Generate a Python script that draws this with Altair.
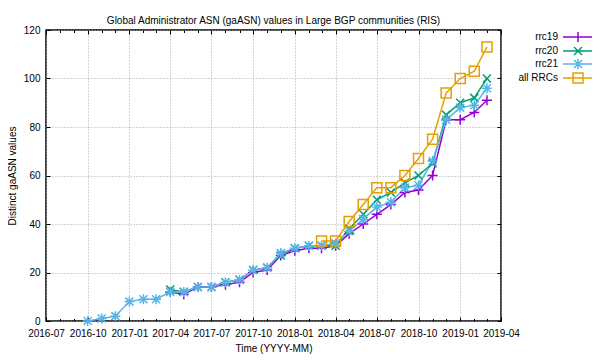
import altair as alt
import pandas as pd

# ---------------- data ----------------
months = [
    "2016-10", "2016-11", "2016-12",
    "2017-01", "2017-02", "2017-03", "2017-04", "2017-05", "2017-06",
    "2017-07", "2017-08", "2017-09", "2017-10", "2017-11", "2017-12",
    "2018-01", "2018-02", "2018-03", "2018-04", "2018-05", "2018-06",
    "2018-07", "2018-08", "2018-09", "2018-10", "2018-11", "2018-12",
    "2019-01", "2019-02", "2019-03",
]
rrc19 = [None] * 6 + [12, 11, 14, 14, 15, 16, 20, 21, 27,
                      29, 30, 30, 31, 36, 40, 44, 48, 53, 54, 60, 83,
                      83, 86, 91]
rrc20 = [None] * 6 + [13, 12, 14, 14, 16, 17, 21, 22, 27,
                      30, 31, 31, 31, 38, 44, 50, 53, 57, 60, 65, 85,
                      90, 92, 100]
rrc21 = [0, 1, 2,
         8, 9, 9, 12, 12, 14, 14, 16, 17, 21, 22, 28,
         30, 31, 31, 32, 37, 42, 47, 49, 55, 56, 66, 83,
         88, 89, 96]
all_rrcs = [None] * 17 + [33, 33, 41, 48, 55, 55, 60, 67, 75, 94,
                          100, 103, 113]

series_names = ["rrc19", "rrc20", "rrc21", "all RRCs"]
series_values = [rrc19, rrc20, rrc21, all_rrcs]
series_colors = ["#9400D3", "#009E73", "#56B4E9", "#E69F00"]

# point markers (unit box -1..1)
PLUS = "M-1,0L1,0M0,-1L0,1"
CROSS = "M-0.8,-0.8L0.8,0.8M-0.8,0.8L0.8,-0.8"
STAR = PLUS + CROSS
SQUARE = "M-1,-1L1,-1L1,1L-1,1Z"
series_shapes = [PLUS, CROSS, STAR, "square"]
# legend samples: line segment with marker on it (gnuplot-style key)
SEG = "M-3,0L3,0"
legend_shapes = [SEG + PLUS, SEG + CROSS, SEG + STAR, SEG + SQUARE]

y_ticks = [0, 20, 40, 60, 80, 100, 120]

rows = []
for name, vals in zip(series_names, series_values):
    for m, v in zip(months, vals):
        if v is not None:
            rows.append({"date": m + "-01T00:00:00", "value": v, "series": name})
df = pd.DataFrame(rows)

# tick values (monthly minor, quarterly major)
monthly = []
y, mo = 2016, 7
while (y, mo) <= (2019, 4):
    monthly.append(alt.DateTime(year=y, month=mo, date=1))
    mo += 1
    if mo > 12:
        mo, y = 1, y + 1
quarterly = [d for d in monthly if (d.to_dict()["month"] - 1) % 3 == 0]

W, H = 455, 291
FONT = "Liberation Sans"
LEG_X, LEG_Y = 526, 1

x_scale = alt.Scale(domain=[alt.DateTime(year=2016, month=7, date=1),
                            alt.DateTime(year=2019, month=4, date=1)])
y_scale = alt.Scale(domain=[0, 120], nice=False, zero=True)
color_scale = alt.Scale(domain=series_names, range=series_colors)
shape_scale = alt.Scale(domain=series_names, range=series_shapes)

tick_size_cond = {"condition": {"test": "month(datum.value) % 3 == 0", "value": 4},
                  "value": 2.5}

label_x_axis = alt.Axis(values=quarterly, format="%Y-%m", ticks=False, domain=False,
                        grid=True, gridColor="#a8a8a8", gridDash=[1, 2], gridWidth=1,
                        labelFont=FONT, labelFontSize=10, labelColor="black",
                        labelPadding=7, labelOverlap=False, labelFlush=False,
                        title="Time (YYYY-MM)", titleFont=FONT, titleFontSize=10,
                        titleFontWeight="normal", titleColor="black", titlePadding=5)
label_y_axis = alt.Axis(values=y_ticks, ticks=False, domain=False,
                        grid=True, gridColor="#a8a8a8", gridDash=[1, 2], gridWidth=1,
                        labelFont=FONT, labelFontSize=10, labelColor="black",
                        labelPadding=6, labelFlush=False,
                        title="Distinct gaASN values", titleFont=FONT, titleFontSize=10,
                        titleFontWeight="normal", titleColor="black", titlePadding=6)

def tick_axis_x(orient):
    return alt.Axis(orient=orient, offset=-H, values=monthly, labels=False, domain=False,
                    grid=False, ticks=True, tickSize=tick_size_cond, tickColor="black",
                    tickWidth=1, title=None)

def tick_axis_y(orient):
    return alt.Axis(orient=orient, offset=-W, values=y_ticks, labels=False, domain=False,
                    grid=False, ticks=True, tickSize=4, tickColor="black",
                    tickWidth=1, title=None)

shape_expr = " : ".join(
    f"datum.value === '{n}' ? '{p}'" for n, p in zip(series_names[:-1], legend_shapes[:-1])
) + f" : '{legend_shapes[-1]}'"

base = alt.Chart(df)

lines = base.mark_line(strokeWidth=1.5).encode(
    x=alt.X("date:T", scale=x_scale, axis=label_x_axis),
    y=alt.Y("value:Q", scale=y_scale, axis=label_y_axis),
    color=alt.Color("series:N", scale=color_scale,
                    legend=alt.Legend(orient="none", legendX=LEG_X, legendY=LEG_Y, title=None,
                                      padding=0, symbolSize=100, symbolStrokeWidth=1.5,
                                      symbolType={"expr": shape_expr},
                                      symbolFillColor="transparent",
                                      labelAlign="right", labelOffset={"expr": "-26"},
                                      labelFont=FONT, labelFontSize=10, labelColor="black",
                                      rowPadding={"expr": "-4.5"})),
    detail="series:N",
)

points = base.mark_point(filled=False, size=100, strokeWidth=1.5, opacity=1).encode(
    x=alt.X("date:T", scale=x_scale, axis=tick_axis_x("top")),
    y=alt.Y("value:Q", scale=y_scale, axis=tick_axis_y("right")),
    color=alt.Color("series:N", scale=color_scale, legend=None),
    shape=alt.Shape("series:N", scale=shape_scale, legend=None),
)

ghost = base.mark_point(opacity=0).encode(
    x=alt.X("date:T", scale=x_scale, axis=tick_axis_x("bottom")),
    y=alt.Y("value:Q", scale=y_scale, axis=tick_axis_y("left")),
)

chart = alt.layer(lines, points, ghost).resolve_axis(
    x="independent", y="independent"
).resolve_legend(
    color="independent", shape="independent"
).properties(
    width=W, height=H,
    title=alt.TitleParams("Global Administrator ASN (gaASN) values in Large BGP communities (RIS)",
                          font=FONT, fontSize=10, fontWeight="normal", color="black",
                          anchor="middle", offset=8, dy=9, frame="group"),
    autosize=alt.AutoSizeParams(type="none"),
    padding={"left": 38, "top": 22, "right": 91, "bottom": 36},
    background="white",
).configure_view(stroke="black", strokeWidth=1.5)

chart.save("out.html", embed_options={"renderer": "svg", "actions": False})
